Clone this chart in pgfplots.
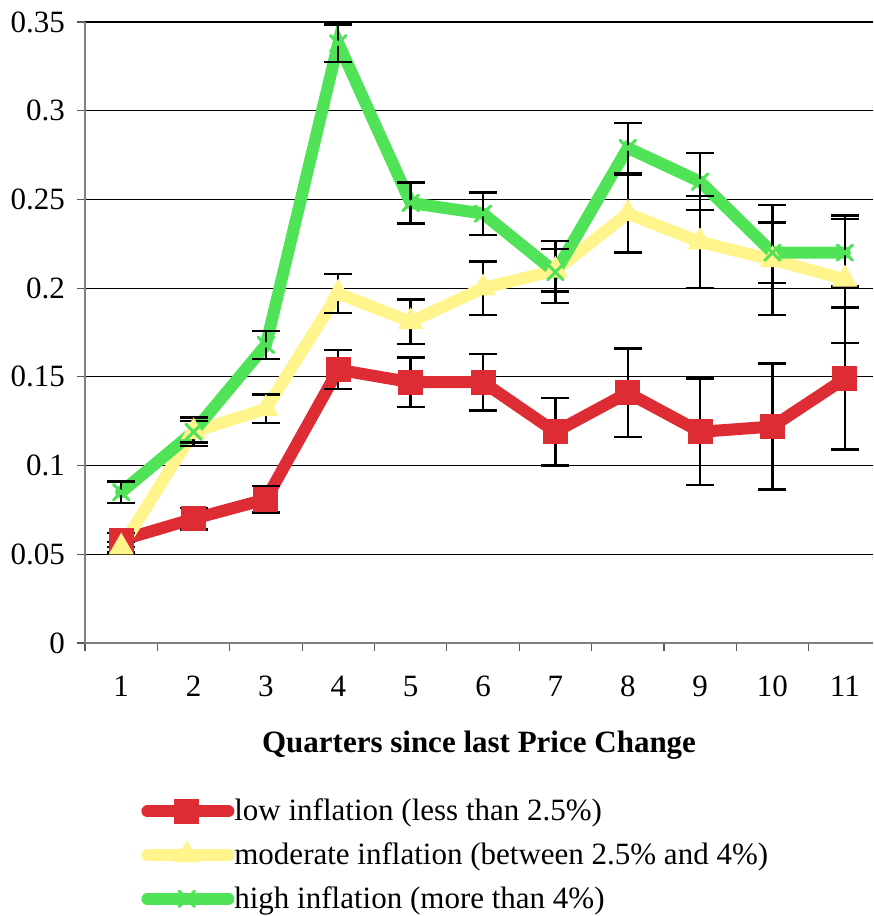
\documentclass[border=0pt]{standalone}
\usepackage{fontspec}
\setmainfont{Liberation Serif}
\usepackage{pgfplots}
\usepackage{pgfplotstable}
\pgfplotsset{compat=1.18}
\definecolor{cred}{HTML}{DD2C33}
\definecolor{cyel}{HTML}{FFF58C}
\definecolor{cgreen}{HTML}{50E257}

\pgfplotstableread{
x low elow mod emod high ehigh
1 0.058 0.004 0.054 0.003 0.085 0.006
2 0.070 0.006 0.119 0.006 0.119 0.008
3 0.081 0.0075 0.132 0.008 0.168 0.008
4 0.154 0.011 0.197 0.011 0.338 0.0105
5 0.147 0.014 0.181 0.0125 0.248 0.0115
6 0.147 0.016 0.200 0.015 0.242 0.012
7 0.119 0.019 0.210 0.012 0.209 0.0175
8 0.141 0.025 0.242 0.022 0.279 0.014
9 0.119 0.030 0.226 0.026 0.260 0.016
10 0.122 0.0355 0.216 0.031 0.220 0.017
11 0.149 0.040 0.205 0.036 0.220 0.019
}\data

\begin{document}
\begin{tikzpicture}[font=\fontsize{15.5bp}{18.6bp}\selectfont]
\begin{axis}[
  scale only axis, width=394bp, height=310.5bp,
  xmin=0.5, xmax=11.39, ymin=0, ymax=0.35,
  axis x line*=bottom, axis y line*=left,
  axis line style={gray, line width=0.8bp},
  ytick={0,0.05,0.1,0.15,0.2,0.25,0.3,0.35},
  yticklabels={0,0.05,0.1,0.15,0.2,0.25,0.3,0.35},
  ymajorgrids, grid style={black, line width=0.6bp},
  xtick={1,2,3,4,5,6,7,8,9,10,11},
  xticklabels={1,2,3,4,5,6,7,8,9,10,11},
  minor xtick={0.5,1.5,2.5,3.5,4.5,5.5,6.5,7.5,8.5,9.5,10.5},
  major x tick style={draw=none},
  tick align=outside, major tick length=4bp, minor tick length=4bp,
  tick style={gray!70!black, line width=0.6bp},
  xticklabel style={yshift=-9bp},
  yticklabel style={xshift=-2.5bp},
  xlabel={\textbf{Quarters since last Price Change}},
  xlabel style={at={(axis description cs:0.5,-0.164)}, anchor=center},
  legend cell align=left,
  legend style={draw=none, fill=none, at={(0.071,-0.244)}, anchor=north west,
    inner sep=0pt, row sep=5.5bp, nodes={inner xsep=0pt},
    font=\fontsize{15.5bp}{18.6bp}\selectfont},
  legend image code/.code={%
    \draw[mark repeat=2, mark phase=2, #1] plot coordinates {(3bp,0bp) (19.75bp,0bp) (36.5bp,0bp)};
    \path (0bp,0bp) -- (40.5bp,0bp);},
]
\addplot[cred, line width=6bp, line cap=round, mark=square*, mark size=6bp, mark options={fill=cred, draw=cred, line width=0.5bp}]
  table[x=x, y=low] {\data};
\addlegendentry{low inflation (less than 2.5\%)}
\addplot[cyel, line width=6bp, line cap=round, mark=triangle*, mark size=6.8bp, mark options={fill=cyel, draw=cyel, line width=0.5bp}]
  table[x=x, y=mod] {\data};
\addlegendentry{moderate inflation (between 2.5\% and 4\%)}
\addplot[cgreen, line width=6bp, line cap=round, mark=x, mark size=5.5bp, mark options={line width=1.5bp}]
  table[x=x, y=high] {\data};
\addlegendentry{high inflation (more than 4\%)}

\addplot[draw=none, forget plot, error bars/.cd, y dir=both, y explicit,
  error bar style={draw=black, line width=1.2bp},
  error mark options={rotate=90, draw=black, mark size=7bp, line width=1.2bp}]
  table[x=x, y=low, y error=elow] {\data};
\addplot[draw=none, forget plot, error bars/.cd, y dir=both, y explicit,
  error bar style={draw=black, line width=1.2bp},
  error mark options={rotate=90, draw=black, mark size=7bp, line width=1.2bp}]
  table[x=x, y=mod, y error=emod] {\data};
\addplot[draw=none, forget plot, error bars/.cd, y dir=both, y explicit,
  error bar style={draw=black, line width=1.2bp},
  error mark options={rotate=90, draw=black, mark size=7bp, line width=1.2bp}]
  table[x=x, y=high, y error=ehigh] {\data};

\coordinate (bbA) at (rel axis cs:-0.1079,-0.4396);
\coordinate (bbB) at (rel axis cs:1,1.0354);
\end{axis}
\pgfresetboundingbox
\path[use as bounding box] (bbA) rectangle (bbB);
\end{tikzpicture}
\end{document}
